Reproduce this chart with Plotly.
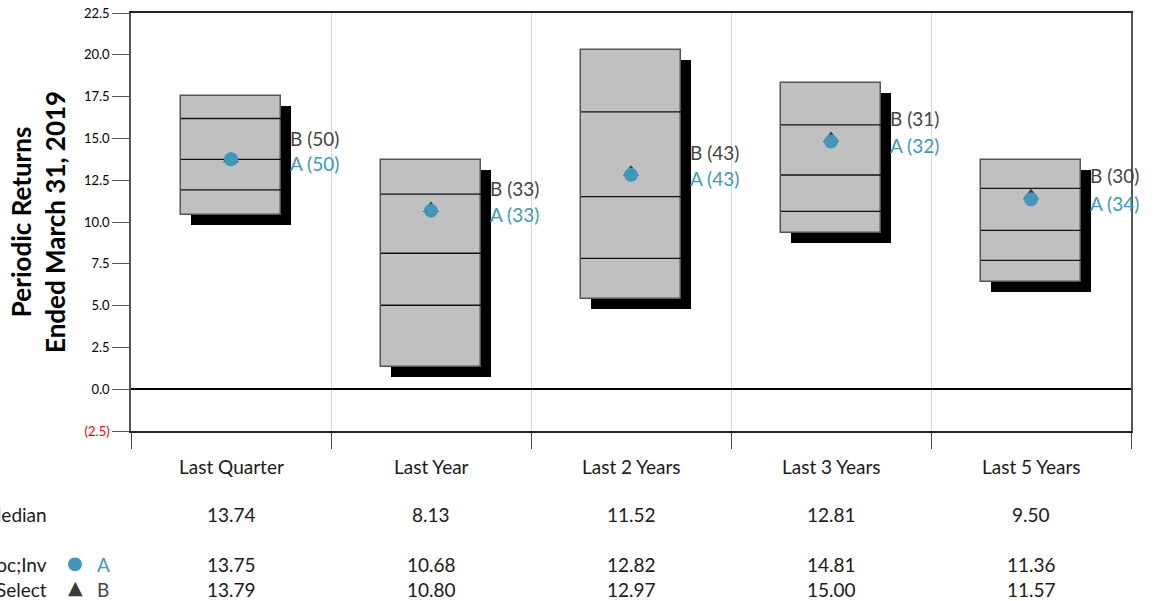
import plotly.graph_objects as go

categories = ["Last Quarter", "Last Year", "Last 2 Years", "Last 3 Years", "Last 5 Years"]
p05 = [17.54, 13.71, 20.29, 18.33, 13.73]
p25 = [16.19, 11.67, 16.59, 15.81, 12.01]
median = [13.74, 8.13, 11.52, 12.81, 9.50]
p75 = [11.92, 5.02, 7.82, 10.63, 7.70]
p95 = [10.42, 1.32, 5.42, 9.32, 6.40]
a_vals = [13.75, 10.68, 12.82, 14.81, 11.36]
b_vals = [13.79, 10.80, 12.97, 15.00, 11.57]
a_ranks = [50, 33, 43, 32, 34]
b_ranks = [50, 33, 43, 31, 30]
ytick_vals = [-2.5, 0.0, 2.5, 5.0, 7.5, 10.0, 12.5, 15.0, 17.5, 20.0, 22.5]
row_names = ["Median", "Assoc;Inv", "Select"]

FONT = "Lato"
A_COL = "#3f98bb"
B_COL = "#3a3a3a"
TXT = "#1a1a1a"
FS = 19

idx = list(range(len(categories)))
heights = [t - b for t, b in zip(p05, p95)]
SH_X = 0.05   # shadow offset (category units)
SH_Y = 0.6    # shadow offset (value units)
BW = 0.5

fig = go.Figure()

# shadow
fig.add_trace(go.Bar(x=idx, y=heights, base=[b - SH_Y for b in p95], width=BW,
                     offset=-BW / 2 + SH_X, marker=dict(color="black", line=dict(width=0)),
                     hoverinfo="skip", showlegend=False))
# box
fig.add_trace(go.Bar(x=idx, y=heights, base=p95, width=BW, offset=-BW / 2,
                     marker=dict(color="#c0c0c0", line=dict(color="#555555", width=1.5)),
                     hoverinfo="skip", showlegend=False))

# percentile lines
lx, ly = [], []
for i in idx:
    for v in (p25[i], median[i], p75[i]):
        lx += [i - BW / 2, i + BW / 2, None]
        ly += [v, v, None]
fig.add_trace(go.Scatter(x=lx, y=ly, mode="lines", line=dict(color="#111111", width=1.3),
                         hoverinfo="skip", showlegend=False))

fig.add_trace(go.Scatter(x=idx, y=b_vals, mode="markers",
                         marker=dict(symbol="triangle-up", size=14, color=B_COL),
                         showlegend=False, name="B"))
fig.add_trace(go.Scatter(x=idx, y=a_vals, mode="markers",
                         marker=dict(symbol="circle", size=14, color=A_COL),
                         showlegend=False, name="A"))

ann = []
for i in idx:
    ann.append(dict(x=i + BW / 2 + SH_X, y=b_vals[i], xref="x", yref="y", xanchor="left",
                    yanchor="middle", yshift=20, xshift=-3, showarrow=False,
                    text=f"B ({b_ranks[i]})", font=dict(family=FONT, size=FS, color="#444444")))
    ann.append(dict(x=i + BW / 2 + SH_X, y=a_vals[i], xref="x", yref="y", xanchor="left",
                    yanchor="middle", yshift=-4, xshift=-3, showarrow=False,
                    text=f"A ({a_ranks[i]})", font=dict(family=FONT, size=FS, color=A_COL)))
    xp = (i + 0.5) / len(categories)
    for txt, ys in ((categories[i], -35), (f"{median[i]:.2f}", -83),
                    (f"{a_vals[i]:.2f}", -133), (f"{b_vals[i]:.2f}", -158)):
        ann.append(dict(x=xp, y=0, xref="paper", yref="paper", xanchor="center",
                        yanchor="middle", yshift=ys, showarrow=False, text=txt,
                        font=dict(family=FONT, size=FS, color=TXT)))

# row labels (cut off at left edge, as in the original)
for name, ys in zip(row_names, (-83, -133, -158)):
    ann.append(dict(x=0, y=0, xref="paper", yref="paper", xanchor="right", yanchor="middle",
                    xshift=-82, yshift=ys, showarrow=False, text=name,
                    font=dict(family=FONT, size=FS, color=TXT)))
ann.append(dict(x=0, y=0, xref="paper", yref="paper", xanchor="center", yanchor="middle",
                xshift=-56, yshift=-131, showarrow=False,
                text="●", font=dict(family="DejaVu Sans", size=18, color=A_COL)))
ann.append(dict(x=0, y=0, xref="paper", yref="paper", xanchor="center", yanchor="middle",
                xshift=-56, yshift=-156, showarrow=False,
                text="▲", font=dict(family="DejaVu Sans", size=19, color=B_COL)))
ann.append(dict(x=0, y=0, xref="paper", yref="paper", xanchor="left", yanchor="middle",
                xshift=-36, yshift=-133, showarrow=False, text="A",
                font=dict(family=FONT, size=FS, color=A_COL)))
ann.append(dict(x=0, y=0, xref="paper", yref="paper", xanchor="left", yanchor="middle",
                xshift=-36, yshift=-158, showarrow=False, text="B",
                font=dict(family=FONT, size=FS, color="#444444")))

# y axis title
ann.append(dict(x=0, y=0.5, xref="paper", yref="paper", xanchor="center", yanchor="middle",
                xshift=-93, showarrow=False, textangle=-90,
                text="<b>Periodic Returns</b><br><b>Ended March 31, 2019</b>",
                font=dict(family=FONT, size=26, color="black")))

ytick_text = []
for v in ytick_vals:
    if v < 0:
        ytick_text.append(f'<span style="color:red">({abs(v):.1f})</span>')
    else:
        ytick_text.append(f"{v:.1f}")

boundaries = [i - 0.5 for i in idx] + [len(idx) - 0.5]

fig.update_layout(
    width=1157, height=601,
    margin=dict(l=131, r=26, t=13, b=170, autoexpand=False),
    plot_bgcolor="white", paper_bgcolor="white",
    barmode="overlay", bargap=0,
    annotations=ann,
    xaxis=dict(range=[-0.5, len(idx) - 0.5], tickvals=boundaries, showticklabels=False,
               ticks="outside", ticklen=16, tickcolor="#444444", tickwidth=1,
               showgrid=True, gridcolor="#d6d6d6", gridwidth=1, automargin=False,
               showline=True, linecolor="#222222", linewidth=1.5, mirror=True,
               zeroline=False),
    yaxis=dict(range=[-2.5, 22.5], tickvals=ytick_vals, ticktext=ytick_text,
               ticks="outside", ticklen=17, tickcolor="#555555", tickwidth=1,
               tickfont=dict(family=FONT, size=13, color="black"), automargin=False,
               showgrid=False, showline=True, linecolor="#555555", linewidth=1.5, mirror=True,
               zeroline=True, zerolinecolor="black", zerolinewidth=2),
    font=dict(family=FONT),
)

fig.write_html("out.html", config={"displayModeBar": False},
               post_script="document.body.style.margin='0';document.body.style.padding='0';"
                           "document.body.style.overflow='hidden';")
